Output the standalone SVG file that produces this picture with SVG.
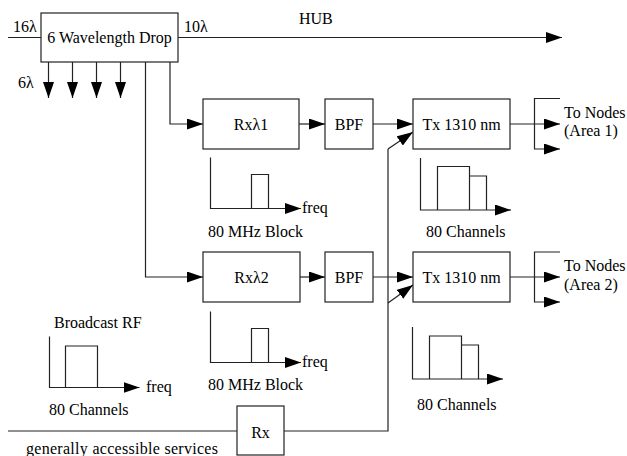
<svg xmlns="http://www.w3.org/2000/svg" width="627" height="456" viewBox="0 0 627 456" font-family="Liberation Serif, Times New Roman, serif" font-size="16">
<style>
.m{text-anchor:middle}
.box{fill:#fff;stroke:#222;stroke-width:1.2}
.ln{fill:none;stroke:#222;stroke-width:1.2}
.a{marker-end:url(#ah)}
</style>
<defs>
<marker id="ah" markerUnits="userSpaceOnUse" markerWidth="16" markerHeight="11" viewBox="0 0 16 11" refX="16" refY="5.5" orient="auto">
<path d="M0,0 L16,5.5 L0,11 z" fill="#000"/>
</marker>
</defs>
<rect width="627" height="456" fill="#fff"/>

<g id="connectors">
<line class="ln" x1="8" y1="37.5" x2="41" y2="37.5"/>
<line class="ln a" x1="178" y1="37.5" x2="562" y2="37.5"/>
<line class="ln a" x1="48.5" y1="62" x2="48.5" y2="98"/>
<line class="ln a" x1="72.5" y1="62" x2="72.5" y2="98"/>
<line class="ln a" x1="96.5" y1="62" x2="96.5" y2="98"/>
<line class="ln a" x1="120.5" y1="62" x2="120.5" y2="98"/>
<polyline class="ln a" points="170,62 170,124 203,124"/>
<polyline class="ln a" points="145.5,62 145.5,277 203,277"/>
<line class="ln a" x1="299" y1="124" x2="325" y2="124"/>
<line class="ln a" x1="373" y1="124" x2="413" y2="124"/>
<line class="ln a" x1="300" y1="277" x2="325" y2="277"/>
<line class="ln a" x1="373" y1="277" x2="413" y2="277"/>
<line class="ln" x1="8" y1="431" x2="237" y2="431"/>
<polyline class="ln" points="284,431 388,431 388,149"/>
<line class="ln a" x1="388" y1="149" x2="413" y2="132"/>
<line class="ln a" x1="388" y1="303" x2="413" y2="285"/>
<line class="ln a" x1="510" y1="124" x2="560" y2="124"/>
<polyline class="ln a" points="560,98.5 534.5,98.5 534.5,149 560,149"/>
<line class="ln a" x1="510" y1="277" x2="560" y2="277"/>
<polyline class="ln a" points="560,252 534.5,252 534.5,302 560,302"/>
</g>

<g id="drop">
<rect class="box" x="41" y="13" width="137" height="49"/>
<text class="m" x="109.5" y="43">6 Wavelength Drop</text>
</g>
<g id="rx1">
<rect class="box" x="203" y="99" width="96" height="50"/>
<text class="m" x="251" y="130">Rxλ1</text>
</g>
<g id="bpf1">
<rect class="box" x="325" y="99" width="48" height="50"/>
<text class="m" x="349" y="130">BPF</text>
</g>
<g id="tx1">
<rect class="box" x="413" y="99" width="97" height="50"/>
<text class="m" x="461.5" y="130">Tx 1310 nm</text>
</g>
<g id="rx2">
<rect class="box" x="203" y="252" width="97" height="50"/>
<text class="m" x="251.5" y="283">Rxλ2</text>
</g>
<g id="bpf2">
<rect class="box" x="325" y="252" width="48" height="50"/>
<text class="m" x="349" y="283">BPF</text>
</g>
<g id="tx2">
<rect class="box" x="413" y="252" width="97" height="50"/>
<text class="m" x="461.5" y="283">Tx 1310 nm</text>
</g>
<g id="rx">
<rect class="box" x="237" y="406" width="47" height="49"/>
<text class="m" x="260.5" y="438">Rx</text>
</g>

<g id="labels">
<text x="13" y="31.5">16λ</text>
<text x="184" y="31.5">10λ</text>
<text x="299" y="24">HUB</text>
<text x="18" y="87.5">6λ</text>
<text x="564" y="117.5">To Nodes</text>
<text x="564" y="136">(Area 1)</text>
<text x="564" y="270.5">To Nodes</text>
<text x="564" y="289.5">(Area 2)</text>
<text x="26" y="453.5" textLength="192" lengthAdjust="spacing">generally accessible services</text>
</g>

<g id="spectrum-rx1">
<polyline class="ln a" points="210.5,157.5 210.5,208.5 301,208.5"/>
<polyline class="ln" points="251.5,208.5 251.5,174.5 268.5,174.5 268.5,208.5"/>
<text x="302" y="213">freq</text>
<text x="208" y="236.5">80 MHz Block</text>
</g>
<g id="spectrum-rx2">
<polyline class="ln a" points="210.5,311.5 210.5,362.5 301,362.5"/>
<polyline class="ln" points="251.5,362.5 251.5,328.5 268.5,328.5 268.5,362.5"/>
<text x="302" y="367">freq</text>
<text x="208" y="390">80 MHz Block</text>
</g>
<g id="spectrum-broadcast">
<text x="54" y="327.5">Broadcast RF</text>
<polyline class="ln a" points="49.5,336.5 49.5,387.5 139.5,387.5"/>
<polyline class="ln" points="65.5,387.5 65.5,346 97.5,346 97.5,387.5"/>
<text x="146" y="392">freq</text>
<text x="49" y="414.5">80 Channels</text>
</g>
<g id="spectrum-tx1">
<polyline class="ln a" points="420.5,158 420.5,210 511,210"/>
<polyline class="ln" points="437.5,210 437.5,166.5 469.5,166.5 469.5,210"/>
<polyline class="ln" points="469.5,176 486.5,176 486.5,210"/>
<text x="426" y="237">80 Channels</text>
</g>
<g id="spectrum-tx2">
<polyline class="ln a" points="412.5,327 412.5,379 503,379"/>
<polyline class="ln" points="429.5,379 429.5,336 461.5,336 461.5,379"/>
<polyline class="ln" points="461.5,345 478.5,345 478.5,379"/>
<text x="417" y="410">80 Channels</text>
</g>
</svg>
